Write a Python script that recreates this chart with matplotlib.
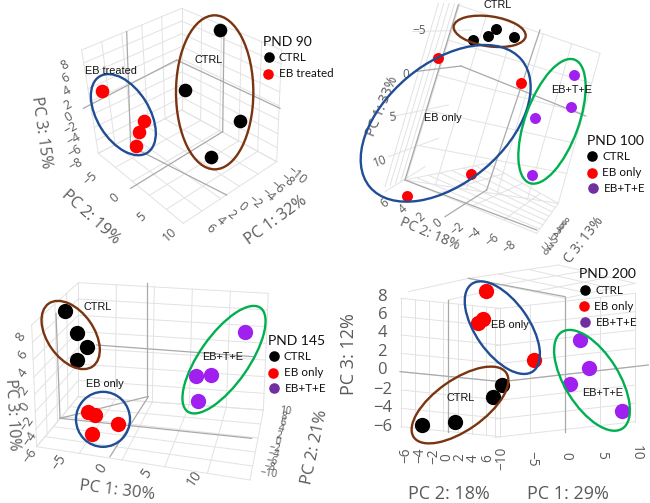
import numpy as np
import matplotlib
matplotlib.use("Agg")
import matplotlib.pyplot as plt
from matplotlib.patches import Ellipse

W, H = 650, 503
BLACK, RED, PURPLE, LEGPURPLE = "#000000", "#ff0000", "#a020f0", "#7030a0"
BROWN, BLUE, GREEN = "#7b3410", "#1f4e96", "#00b050"
LIGHT, DARK, TICK = "#e2e2e2", "#a9a9a9", "#5a5a5a"

# ---------- data (each panel in its own 3x pixel frame) ----------
a_ctrl_x = [660, 556, 720, 632]
a_ctrl_y = [90, 269, 362, 472]
a_eb_x = [305, 433, 417, 407]
a_eb_y = [273, 363, 397, 437]

b_ctrl_x = [445, 489, 514, 566]
b_ctrl_y = [119, 109, 88, 112]
b_eb_x = [339, 589, 437, 246]
b_eb_y = [174, 248, 523, 589]
b_tte_x = [747, 737, 631, 622]
b_tte_y = [226, 322, 353, 526]

c_ctrl_x = [194, 230, 261, 232]
c_ctrl_y = [182, 250, 292, 329]
c_eb_x = [265, 285, 353, 275]
c_eb_y = [486, 495, 523, 551]
c_tte_x = [736, 633, 588, 594]
c_tte_y = [247, 375, 378, 452]

d_ctrl_x = [290, 390, 503, 532]
d_ctrl_y = [524, 517, 442, 405]
d_eb_x = [483, 475, 460, 627]
d_eb_y = [123, 207, 218, 330]
d_tte_x = [765, 793, 736, 891]
d_tte_y = [271, 354, 403, 484]

a_pc1_ticks = ["6", "4", "2", "0", "−2", "−4", "−6", "−8", "−10"]
a_pc2_ticks = ["−5", "0", "5", "10"]
a_pc3_ticks = ["8", "6", "4", "2", "0", "−2", "−4", "−6", "−8"]
b_pc1_ticks = ["−5", "0", "5", "10"]
b_pc2_ticks = ["6", "4", "2", "0", "−2", "−4", "−6", "−8"]
b_pc3_ticks = ["−6", "−4", "−2", "0", "2", "4", "6", "8"]
c_pc1_ticks = ["−5", "0", "5", "10"]
c_pc2_ticks = ["−10", "−8", "−6", "−4", "−2", "0", "2", "4", "6", "8", "10"]
c_pc3_ticks = ["8", "6", "4", "2", "0", "−2", "−4", "−6"]
d_pc1_ticks = ["−10", "−5", "0", "5", "10"]
d_pc2_ticks = ["−6", "−4", "−2", "0", "2", "4", "6"]
d_pc3_ticks = ["8", "6", "4", "2", "0", "−2", "−4", "−6"]

# ---------- helpers ----------
plt.rcParams["font.family"] = ["Open Sans", "DejaVu Sans"]
fig = plt.figure(figsize=(W / 100, H / 100), dpi=100)


def panel(x0, y0, w, h):
    ax = fig.add_axes([x0 / W, 1 - (y0 + h) / H, w / W, h / H])
    ax.set_xlim(0, w * 3)
    ax.set_ylim(h * 3, 0)
    ax.axis("off")
    return ax


def wall(ax, p1, p2, p3, p4, nu, nv):
    """Light grid on a quadrilateral with corners p1-p2-p3-p4."""
    p1, p2, p3, p4 = map(np.array, (p1, p2, p3, p4))
    for t in np.linspace(0, 1, nu):
        a, b = p1 + (p2 - p1) * t, p4 + (p3 - p4) * t
        ax.plot([a[0], b[0]], [a[1], b[1]], color=LIGHT, lw=0.7, zorder=1, clip_on=False)
    for t in np.linspace(0, 1, nv):
        a, b = p1 + (p4 - p1) * t, p2 + (p3 - p2) * t
        ax.plot([a[0], b[0]], [a[1], b[1]], color=LIGHT, lw=0.7, zorder=1, clip_on=False)


def dark(ax, *segs):
    for (x1, y1, x2, y2) in segs:
        ax.plot([x1, x2], [y1, y2], color=DARK, lw=0.9, zorder=2, clip_on=False)


def light(ax, *segs):
    for (x1, y1, x2, y2) in segs:
        ax.plot([x1, x2], [y1, y2], color=LIGHT, lw=0.7, zorder=1, clip_on=False)


def pts(ax, xs, ys, color, d):
    ax.scatter(xs, ys, s=d ** 2, color=color, linewidths=0, zorder=4, clip_on=False)


def ell(ax, cx, cy, w, h, ang, color):
    ax.add_patch(Ellipse((cx, cy), w, h, angle=ang, fill=False, ec=color, lw=1.7, zorder=5, clip_on=False))


def ticks(ax, labels, xs, ys, rot, fs=9.5):
    rots = rot if isinstance(rot, list) else [rot] * len(labels)
    for s, x, y, r in zip(labels, xs, ys, rots):
        ax.text(x, y, s, rotation=r, rotation_mode="anchor", ha="center", va="center",
                color=TICK, fontsize=fs, zorder=3, clip_on=False)


def title(ax, s, x, y, rot, fs=11.5):
    ax.text(x, y, s, rotation=rot, rotation_mode="anchor", ha="center", va="center",
            color=TICK, fontsize=fs, zorder=3, clip_on=False)


def note(ax, s, x, y):
    ax.text(x, y, s, ha="center", va="center", color="#111111", fontsize=7.8,
            family=["Liberation Sans"], zorder=6, clip_on=False)


def legend(ax, head, hx, hy, entries, fs=8.4):
    ax.text(hx, hy, head, ha="left", va="center", fontsize=fs + 1.6, color="#111111",
            family=["Lato"], zorder=7, clip_on=False)
    for (lab, col, mx, tx, y) in entries:
        ax.scatter([mx], [y], s=58, color=col, linewidths=0, zorder=7, clip_on=False)
        ax.text(tx, y, lab, ha="left", va="center", fontsize=fs, color="#111111",
                family=["Lato"], zorder=7, clip_on=False)


# ---------- PND 90 ----------
ax = panel(0, 0, 325, 250)
wall(ax, (245, 150), (545, 25), (545, 330), (295, 460), 6, 9)
wall(ax, (545, 25), (845, 150), (830, 485), (545, 330), 6, 9)
wall(ax, (295, 460), (545, 330), (830, 485), (550, 670), 6, 6)
dark(ax, (250, 325, 530, 180), (530, 180, 840, 325), (380, 95, 392, 440),
     (672, 100, 668, 395), (392, 565, 668, 395), (395, 440, 680, 585))
ticks(ax, a_pc3_ticks, [195, 197, 200, 203, 205, 212, 220, 225, 226],
      [195, 235, 273, 315, 352, 385, 418, 455, 492], 30, 8.8)
ticks(ax, a_pc2_ticks, [272, 343, 425, 510], [537, 595, 650, 703], 42, 9)
ticks(ax, a_pc1_ticks, [630, 663, 693, 727, 765, 805, 832, 860, 890],
      [687, 663, 643, 620, 605, 585, 562, 540, 525], -40, 8.8)
title(ax, "PC 3: 15%", 122, 397, -82)
title(ax, "PC 2: 19%", 272, 652, -42)
title(ax, "PC 1: 32%", 827, 660, 36)
ell(ax, 644, 277, 462, 232, 90, BROWN)
ell(ax, 370, 344, 270, 156, 58, BLUE)
pts(ax, a_ctrl_x, a_ctrl_y, BLACK, 9.8)
pts(ax, a_eb_x, a_eb_y, RED, 9.8)
note(ax, "EB treated", 333, 213)
note(ax, "CTRL", 625, 181)
legend(ax, "PND 90", 790, 125, [("CTRL", BLACK, 807, 836, 172), ("EB treated", RED, 805, 836, 221)])

# ---------- PND 100 ----------
ax = panel(325, 0, 325, 250)
wall(ax, (340, 10), (405, 10), (243, 540), (180, 560), 5, 0)
light(ax, (262, 95, 440, 90), (200, 350, 370, 315), (190, 470, 340, 415), (180, 575, 300, 500))
wall(ax, (400, 15), (825, 160), (700, 610), (240, 540), 6, 6)
wall(ax, (240, 540), (485, 490), (700, 610), (635, 700), 8, 5)
dark(ax, (400, 15, 240, 540), (645, 90, 485, 570), (268, 215, 408, 198), (408, 198, 782, 348),
     (240, 540, 635, 690), (360, 650, 485, 570))
ticks(ax, b_pc1_ticks, [283, 243, 203, 165], [90, 225, 352, 485], [0, 0, 5, 20], 8.5)
ticks(ax, b_pc2_ticks, [180, 235, 287, 337, 397, 448, 502, 553],
      [608, 628, 650, 668, 687, 703, 720, 740], 40, 8.5)
ticks(ax, b_pc3_ticks, [655, 665, 675, 683, 690, 698, 706, 715],
      [750, 738, 725, 712, 700, 688, 678, 666], -45, 7.5)
title(ax, "PC 1: 33%", 172, 320, 68, 10)
title(ax, "PC 2: 18%", 315, 703, -23, 10)
title(ax, "C 3: 13%", 777, 720, 52, 10)
ell(ax, 494, 94, 218, 90, 8, BROWN)
ell(ax, 362, 370, 594, 358, -40, BLUE)
ell(ax, 681, 364, 394, 160, -70, GREEN)
pts(ax, b_ctrl_x, b_ctrl_y, BLACK, 7.9)
pts(ax, b_eb_x, b_eb_y, RED, 7.9)
pts(ax, b_tte_x, b_tte_y, PURPLE, 7.9)
note(ax, "CTRL", 519, 15)
note(ax, "EB only", 355, 353)
note(ax, "EB+T+E", 740, 271)
legend(ax, "PND 100", 786, 423, [("CTRL", BLACK, 802, 832, 469), ("EB only", RED, 802, 832, 518),
                                 ("EB+T+E", LEGPURPLE, 803, 836, 565)])

# ---------- PND 145 ----------
ax = panel(0, 250, 325, 253)
wall(ax, (95, 225), (235, 98), (235, 440), (110, 590), 5, 8)
wall(ax, (235, 98), (805, 130), (790, 480), (235, 440), 6, 8)
wall(ax, (110, 590), (235, 440), (790, 480), (750, 690), 6, 6)
dark(ax, (442, 100, 442, 440), (180, 505, 442, 440), (290, 285, 760, 320), (180, 505, 755, 565),
     (330, 620, 445, 440), (168, 190, 180, 505))
ticks(ax, c_pc3_ticks, [62, 68, 70, 72, 74, 82, 90, 90], [262, 315, 368, 422, 470, 520, 565, 618], 55, 9.5)
ticks(ax, c_pc1_ticks, [178, 305, 440, 585], [638, 657, 670, 685], 55, 10)
ticks(ax, c_pc2_ticks, [805, 810, 815, 820, 825, 832, 837, 842, 847, 852, 856],
      [672, 652, 633, 614, 595, 576, 557, 538, 519, 500, 484], -8, 7.5)
title(ax, "PC 3: 10%", 36, 495, -87, 11.3)
title(ax, "PC 1: 30%", 352, 722, -7, 12)
title(ax, "PC 2: 21%", 945, 590, 78, 12)
ell(ax, 212, 255, 230, 140, 55, BROWN)
ell(ax, 309, 508, 162, 165, 0, BLUE)
ell(ax, 672, 329, 380, 148, -55, GREEN)
pts(ax, c_ctrl_x, c_ctrl_y, BLACK, 11)
pts(ax, c_eb_x, c_eb_y, RED, 11)
pts(ax, c_tte_x, c_tte_y, PURPLE, 11)
note(ax, "CTRL", 293, 172)
note(ax, "EB only", 314, 403)
note(ax, "EB+T+E", 667, 320)
legend(ax, "PND 145", 805, 272, [("CTRL", BLACK, 821, 851, 319), ("EB only", RED, 819, 851, 368),
                                 ("EB+T+E", LEGPURPLE, 821, 855, 414)])

# ---------- PND 200 ----------
ax = panel(325, 250, 325, 253)
wall(ax, (228, 145), (525, 175), (525, 560), (228, 530), 8, 8)
wall(ax, (510, 177), (930, 130), (930, 515), (510, 562), 5, 8)
wall(ax, (430, 85), (700, 45), (930, 100), (720, 145), 4, 4)
light(ax, (250, 125, 430, 85), (370, 150, 525, 115))
dark(ax, (370, 150, 370, 545), (720, 140, 720, 545), (225, 365, 530, 395), (530, 395, 970, 345),
     (430, 85, 720, 140))
ticks(ax, d_pc3_ticks, [172] * 8, [140, 195, 250, 305, 360, 420, 475, 530], 0, 12)
ticks(ax, d_pc2_ticks, [242, 285, 325, 365, 405, 445, 487], [615, 615, 618, 620, 622, 625, 625], 90, 9.8)
ticks(ax, d_pc1_ticks, [530, 620, 722, 830, 935], [625, 625, 618, 615, 608], [90, -90, -90, -90, -90], 9.8)
title(ax, "PC 3: 12%", 72, 313, 90, 13)
title(ax, "PC 2: 18%", 372, 732, 0, 13)
title(ax, "PC 1: 29%", 730, 732, 0, 13)
ell(ax, 405, 465, 338, 152, -35, BROWN)
ell(ax, 532, 233, 320, 160, 55, BLUE)
ell(ax, 801, 391, 342, 162, 58, GREEN)
pts(ax, d_ctrl_x, d_ctrl_y, BLACK, 11)
pts(ax, d_eb_x, d_eb_y, RED, 11)
pts(ax, d_tte_x, d_tte_y, PURPLE, 11)
note(ax, "CTRL", 407, 445)
note(ax, "EB only", 556, 226)
note(ax, "EB+T+E", 834, 429)
legend(ax, "PND 200", 763, 73, [("CTRL", BLACK, 780, 810, 120), ("EB only", RED, 778, 808, 169),
                                ("EB+T+E", LEGPURPLE, 781, 812, 216)])

fig.savefig("out.png", dpi=100)
